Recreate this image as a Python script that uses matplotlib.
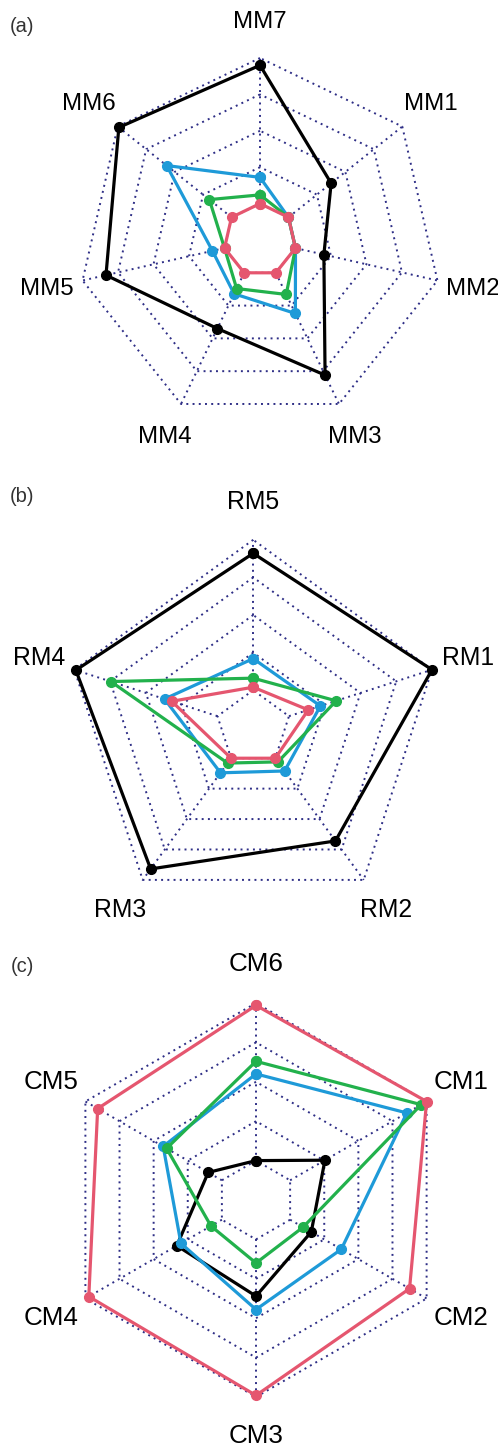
import numpy as np
import matplotlib.pyplot as plt

plt.rcParams['font.family'] = ['Liberation Sans', 'DejaVu Sans']

# values scaled 0..1 (0 = inner ring, 1 = outer ring), axes listed
# counter-clockwise starting at the top
mm_labels = ["MM7", "MM6", "MM5", "MM4", "MM3", "MM2", "MM1"]
mm_black = [0.95, 0.99, 0.835, 0.425, 0.78, 0.20, 0.375]
mm_blue = [0.18, 0.57, 0.085, 0.16, 0.31, 0.0, 0.0]
mm_green = [0.06, 0.195, 0.0, 0.12, 0.165, 0.0, 0.0]
mm_red = [0.0, 0.0, 0.0, 0.0, 0.0, 0.0, 0.0]

rm_labels = ["RM5", "RM4", "RM3", "RM2", "RM1"]
rm_black = [0.91, 0.99, 0.91, 0.68, 1.0]
rm_blue = [0.21, 0.37, 0.12, 0.105, 0.22]
rm_green = [0.08, 0.745, 0.04, 0.03, 0.33]
rm_red = [0.02, 0.32, 0.0, 0.0, 0.135]

cm_labels = ["CM6", "CM5", "CM4", "CM3", "CM2", "CM1"]
cm_black = [0.0, 0.10, 0.33, 0.36, 0.155, 0.255]
cm_blue = [0.55, 0.43, 0.30, 0.445, 0.375, 0.855]
cm_green = [0.63, 0.405, 0.08, 0.15, 0.095, 0.96]
cm_red = [0.985, 0.91, 0.975, 0.99, 0.875, 1.0]

BLACK = "black"
BLUE = "#1E9AD8"
GREEN = "#22B14C"
RED = "#E5566F"
GRID = "#2E2E86"

W, H = 498, 1455
fig = plt.figure(figsize=(W / 100, H / 100), dpi=100)


def radar(top, bottom, cx, cy, R, labels, series, tag, tag_y):
    # axes covering the panel strip, one data unit = R pixels
    ax = fig.add_axes([0, 1 - bottom / H, 1, (bottom - top) / H])
    ax.set_xlim(-cx / R, (W - cx) / R)
    ax.set_ylim(-(bottom - cy) / R, (cy - top) / R)
    ax.axis("off")

    n = len(labels)
    ang = np.pi / 2 + 2 * np.pi * np.arange(n) / n
    xx, yy = np.cos(ang), np.sin(ang)

    # grid rings and spokes (fmsb style, inner gap)
    for k in range(1, 6):
        s = k / 5
        ax.plot(np.append(xx, xx[0]) * s, np.append(yy, yy[0]) * s,
                color=GRID, lw=1.4, ls=(0, (1, 2.2)), zorder=1)
    for x, y in zip(xx, yy):
        ax.plot([0.2 * x, x], [0.2 * y, y], color=GRID, lw=1.4,
                ls=(0, (1, 2.2)), zorder=1)

    for z, (vals, col) in enumerate(series):
        r = 0.2 + 0.8 * np.asarray(vals)
        px, py = r * xx, r * yy
        ax.plot(np.append(px, px[0]), np.append(py, py[0]), color=col,
                lw=2.3, marker="o", ms=7, zorder=3 + z, clip_on=False)

    for lab, x, y in zip(labels, xx, yy):
        ax.text(1.2 * x, 1.2 * y, lab, ha="center", va="center",
                fontsize=17.3 * R / 182)

    fig.text(22 / W, 1 - tag_y / H, tag, ha="center", va="center",
             fontsize=14.5, color="#333333")


radar(0, 480, 260, 240, 182, mm_labels,
      [(mm_black, BLACK), (mm_blue, BLUE), (mm_green, GREEN), (mm_red, RED)],
      "(a)", 26)
radar(480, 950, 253.2, 727.8, 188, rm_labels,
      [(rm_black, BLACK), (rm_blue, BLUE), (rm_green, GREEN), (rm_red, RED)],
      "(b)", 497)
radar(950, 1455, 256, 1200, 197, cm_labels,
      [(cm_black, BLACK), (cm_blue, BLUE), (cm_green, GREEN), (cm_red, RED)],
      "(c)", 966)

fig.savefig("out.png", dpi=100)
